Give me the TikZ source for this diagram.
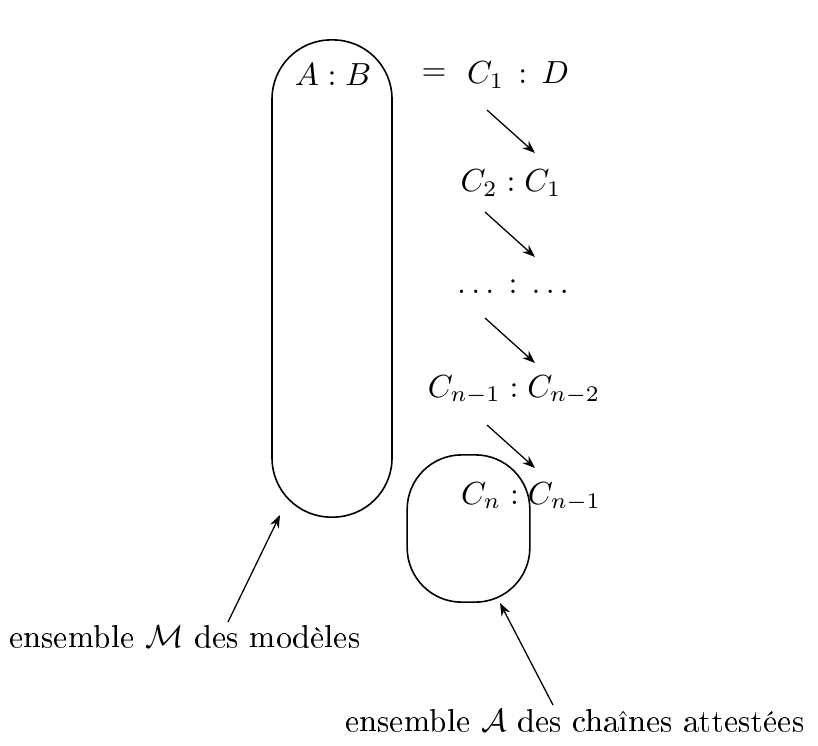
\documentclass[tikz,border=0pt]{standalone}
\usepackage{amsmath}
\usepackage[T1]{fontenc}
\usetikzlibrary{arrows.meta}

\begin{document}
\begin{tikzpicture}[
  x=0.011cm, y=-0.011cm,
  oval/.style={draw, line width=0.5pt, inner sep=0pt},
  arr/.style={->, line width=0.4pt, >={Stealth[length=4pt,width=3pt]}},
  lbl/.style={inner sep=1pt}
]
  \useasboundingbox (0,0) rectangle (818,745);

  % the two sets
  \node[oval, minimum width=1.32cm, minimum height=5.25cm, rounded corners=0.65cm] (models) at (332,278.5) {};
  \node[oval, minimum width=1.35cm, minimum height=1.62cm, rounded corners=0.6cm] (chains) at (468.5,528.5) {};

  % the chain of pairs
  \node[lbl] (ab)   at (333,75)  {$A:B$};
  \node[lbl] (eq)   at (434,75)  {$=$};
  \node[lbl] (c1)   at (518,75)  {$C_1\,:\,D$};
  \node[lbl] (c2)   at (511,183) {$C_2:C_1$};
  \node[lbl] (dots) at (513,287) {$\ldots\,:\,\ldots$};
  \node[lbl] (cn1)  at (514,390) {$C_{n-1}:C_{n-2}$};
  \node[lbl] (cn)   at (531,497) {$C_n:C_{n-1}$};

  \coordinate (a1s) at (487,110); \coordinate (a1e) at (535,153);
  \coordinate (a2s) at (485,212); \coordinate (a2e) at (535,257);
  \coordinate (a3s) at (485,318); \coordinate (a3e) at (535,363);
  \coordinate (a4s) at (487,425); \coordinate (a4e) at (535,468);
  \draw[arr] (a1s) -- (a1e);
  \draw[arr] (a2s) -- (a2e);
  \draw[arr] (a3s) -- (a3e);
  \draw[arr] (a4s) -- (a4e);

  % captions
  \node[lbl] (mcap) at (185,636) {ensemble $\mathcal{M}$ des mod\`eles};
  \node[lbl] (acap) at (575,720) {ensemble $\mathcal{A}$ des cha\^ines attest\'ees};
  \coordinate (mtail) at (228,622); \coordinate (mtip) at (280,515);
  \coordinate (atail) at (553,705); \coordinate (atip) at (500,603);
  \draw[arr] (mtail) -- (mtip);
  \draw[arr] (atail) -- (atip);
\end{tikzpicture}
\end{document}
